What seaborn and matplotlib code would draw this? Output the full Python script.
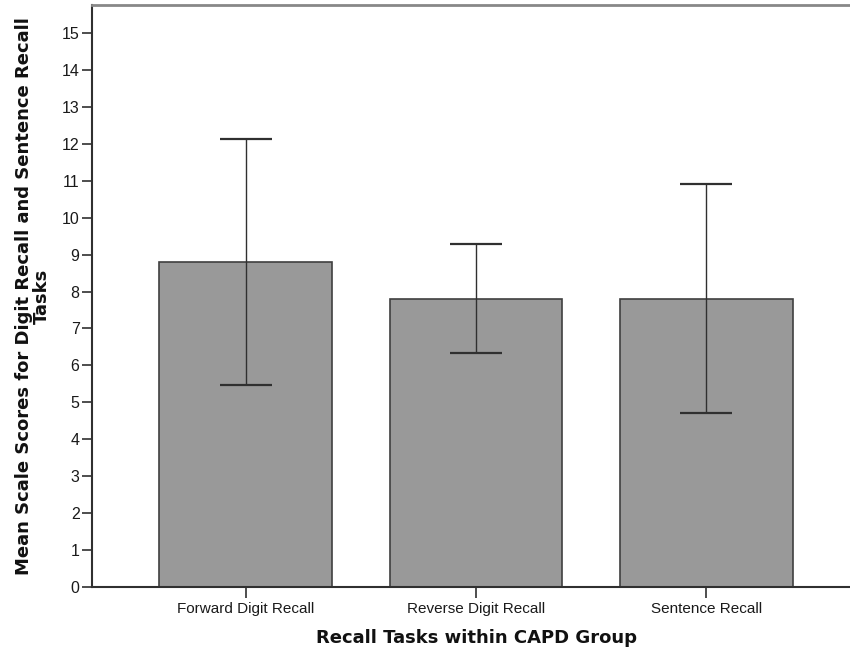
import matplotlib
matplotlib.use("Agg")
import matplotlib.pyplot as plt
import seaborn as sns
import pandas as pd
import numpy as np

categories = ["Forward Digit Recall", "Reverse Digit Recall", "Sentence Recall"]
means = [8.80, 7.80, 7.80]
err_low = [5.47, 6.33, 4.70]
err_high = [12.14, 9.28, 10.91]
yticks = list(range(0, 16))

sns.set_theme(style="white")
plt.rcParams['font.family'] = ['Liberation Sans', 'DejaVu Sans']

df = pd.DataFrame({"task": categories, "score": means})

fig = plt.figure(figsize=(8.5, 6.49), dpi=100)
ax = fig.add_axes([92/850, 62/649, (860-92)/850, (587-5)/649])

sns.barplot(data=df, x="task", y="score", color="#999999", saturation=1,
            width=0.75, edgecolor="#404040", linewidth=1.2, errorbar=None, ax=ax)

x = np.arange(len(categories))
yerr = np.array([[m - lo for m, lo in zip(means, err_low)],
                 [hi - m for m, hi in zip(means, err_high)]])
ax.errorbar(x, means, yerr=yerr, fmt="none", ecolor="#303030",
            elinewidth=1.0, capsize=19, capthick=1.6)

ax.set_xlim(-0.667, 2.667)
ax.set_ylim(0, 15.76)
ax.set_yticks(yticks)
ax.set_yticklabels([str(t) for t in yticks])

for s in ["left", "bottom"]:
    ax.spines[s].set_color("#303030")
    ax.spines[s].set_linewidth(1.5)
ax.spines["top"].set_color("#888888")
ax.spines["top"].set_linewidth(2)
ax.spines["right"].set_visible(False)

ax.tick_params(axis="y", direction="out", length=7, width=1.2, color="#303030",
               labelsize=11.5, labelcolor="#1a1a1a", pad=2, left=True)
ax.tick_params(axis="x", direction="out", length=8, width=1.2, color="#303030",
               labelsize=11, labelcolor="#1a1a1a", pad=3, bottom=True)

ax.set_xlabel("Recall Tasks within CAPD Group", fontsize=13.0, fontweight="bold",
              color="#111111", labelpad=9, family=["DejaVu Sans"])
ax.set_ylabel("Mean Scale Scores for Digit Recall and Sentence Recall\nTasks",
              fontsize=12.95, fontweight="bold", color="#111111",
              linespacing=1.05, family=["DejaVu Sans"])
ax.yaxis.set_label_coords(-0.053, 0.5)

fig.savefig("out.png", dpi=100)
